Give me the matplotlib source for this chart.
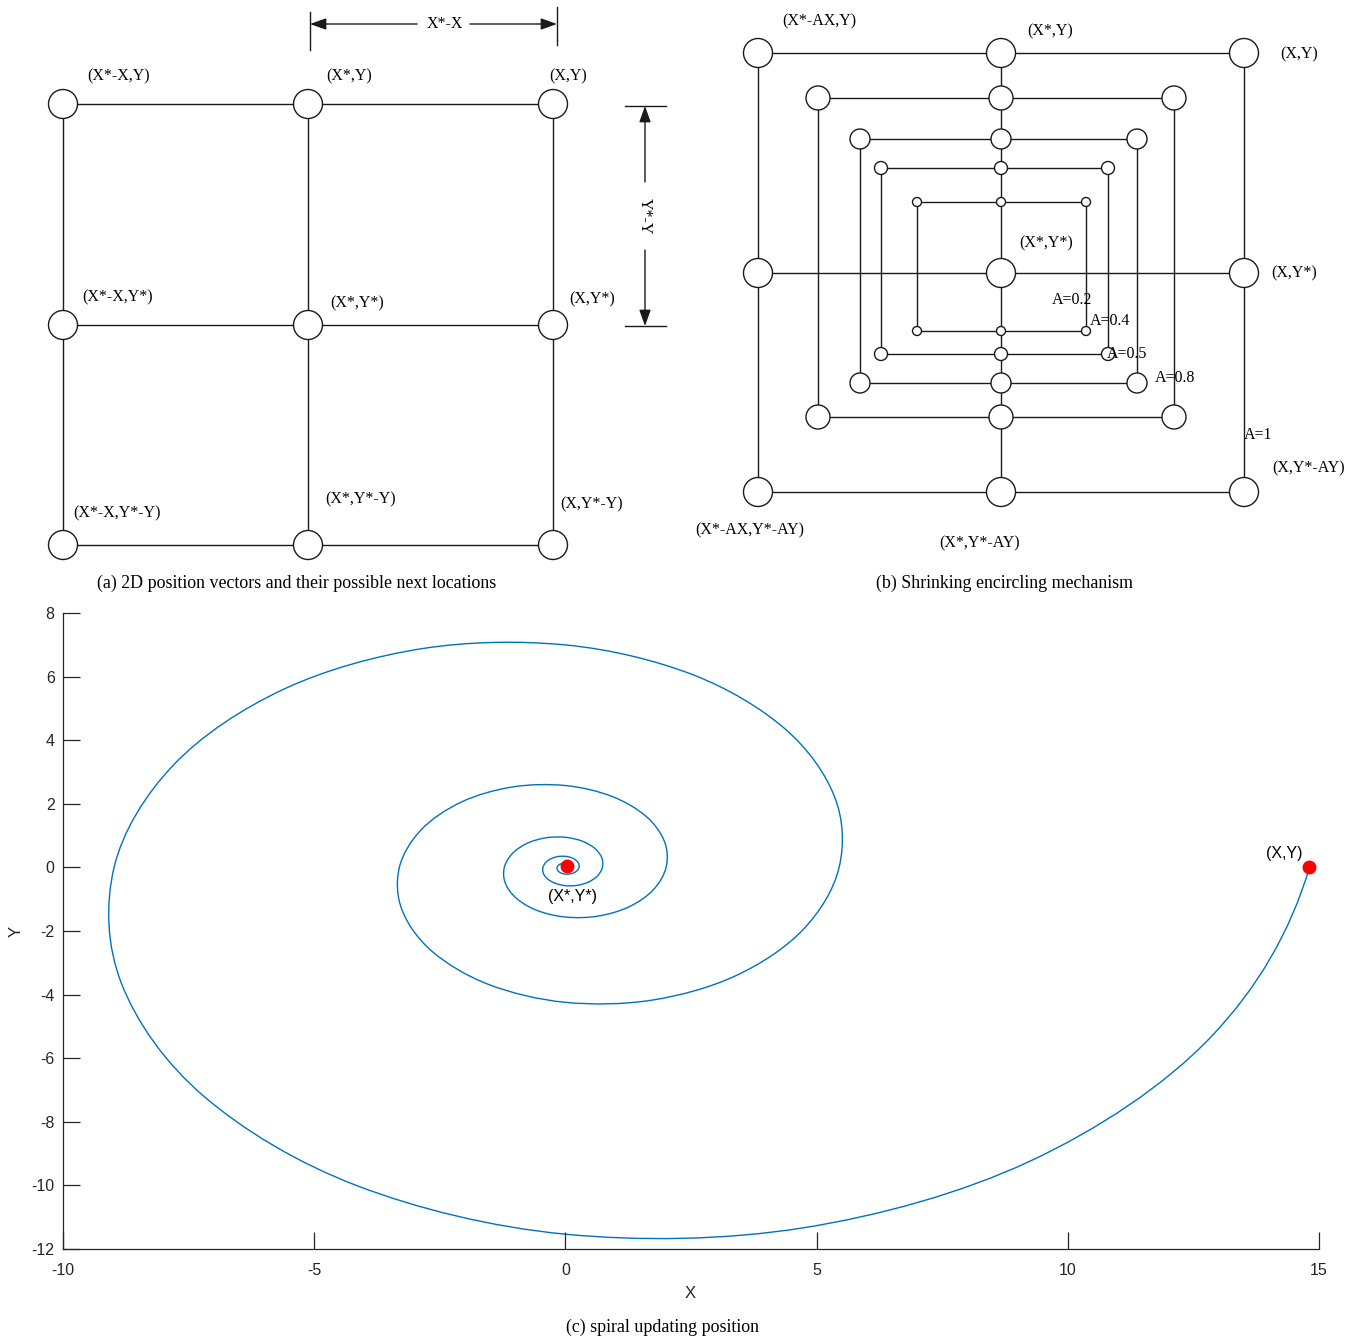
import numpy as np
import matplotlib
matplotlib.use("Agg")
import matplotlib.pyplot as plt
from matplotlib.patches import Ellipse, FancyArrowPatch, PathPatch
from matplotlib.path import Path

plt.rcParams["axes.unicode_minus"] = False

W, H = 1360, 1339

# ---------------- panel (a) data (diagram grid, canvas pixels) ----------------
a_cols = [63, 308, 553]
a_rows = [104, 325, 545]
a_node_d = 29
a_labels = [
    ("(X*-X,Y)", 119, 76), ("(X*,Y)", 349, 76), ("(X,Y)", 568, 76),
    ("(X*-X,Y*)", 118, 297), ("(X*,Y*)", 357, 303), ("(X,Y*)", 592, 299),
    ("(X*-X,Y*-Y)", 117, 513), ("(X*,Y*-Y)", 361, 499), ("(X,Y*-Y)", 592, 504),
]
a_caption = "(a) 2D position vectors and their possible next locations"

# ---------------- panel (b) data ----------------
b_A = ["A=1", "A=0.8", "A=0.5", "A=0.4", "A=0.2"]
b_left = [758, 818, 860, 881, 917]
b_right = [1244, 1174, 1137, 1108, 1086]
b_top = [53, 98, 139, 168, 202]
b_bottom = [492, 417, 383, 354, 331]
b_node_d = [29, 24, 20, 13, 9]
b_cx, b_cy = 1001, 273
b_A_pos = [(1258, 435), (1175, 378), (1127, 354), (1110, 321), (1072, 300)]
b_labels = [
    ("(X*-AX,Y)", 819, 21), ("(X*,Y)", 1050, 31), ("(X,Y)", 1299, 54),
    ("(X*,Y*)", 1046, 243), ("(X,Y*)", 1294, 273), ("(X,Y*-AY)", 1309, 468),
    ("(X*-AX,Y*-AY)", 750, 530), ("(X*,Y*-AY)", 980, 543),
]
b_caption = "(b) Shrinking encircling mechanism"

# ---------------- panel (c) data: spiral points ----------------
spiral_x = [14.81, 12.854, 9.242, 4.699, 0.0, -4.146, -7.197, -8.834,
            -8.983, -7.796, -5.605, -2.850, 0.0, 2.515, 4.365, 5.358,
            5.448, 4.729, 3.400, 1.728, 0.0, -1.525, -2.648, -3.250,
            -3.305, -2.868, -2.062, -1.048, 0.0, 0.925, 1.606, 1.971,
            2.004, 1.740, 1.251, 0.636, 0.0, -0.561, -0.974, -1.196,
            -1.216, -1.055, -0.759, -0.386, 0.0, 0.340, 0.591, 0.725,
            0.737, 0.640, 0.460, 0.234, 0.0, -0.206, -0.358, -0.440,
            -0.447, -0.388, -0.279, -0.142, 0.0, 0.125, 0.217, 0.267,
            0.271, 0.235, 0.169, 0.086, 0.0, -0.076, -0.132, -0.162,
            -0.165, -0.143, -0.103, -0.052, 0.0]
spiral_y = [0.0, -5.324, -9.242, -11.343, -11.534, -10.010, -7.197, -3.659,
            0.0, 3.229, 5.605, 6.880, 6.996, 6.072, 4.365, 2.219,
            0.0, -1.959, -3.400, -4.173, -4.243, -3.683, -2.648, -1.346,
            0.0, 1.188, 2.062, 2.531, 2.574, 2.234, 1.606, 0.816,
            0.0, -0.721, -1.251, -1.535, -1.561, -1.355, -0.974, -0.495,
            0.0, 0.437, 0.759, 0.931, 0.947, 0.822, 0.591, 0.300,
            0.0, -0.265, -0.460, -0.565, -0.574, -0.498, -0.358, -0.182,
            0.0, 0.161, 0.279, 0.343, 0.348, 0.302, 0.217, 0.110,
            0.0, -0.098, -0.169, -0.208, -0.211, -0.183, -0.132, -0.067,
            0.0, 0.059, 0.103, 0.126, 0.128]
start_pt = (14.81, 0.0)
best_pt = (0.03, 0.05)
x_ticks = [-10, -5, 0, 5, 10, 15]
y_ticks = [-12, -10, -8, -6, -4, -2, 0, 2, 4, 6, 8]

SERIF = ["Liberation Serif", "DejaVu Serif"]
SANS = ["Liberation Sans", "DejaVu Sans"]
LC = "#1a1a1a"

fig = plt.figure(figsize=(W / 100, H / 100), dpi=100)
cv = fig.add_axes([0, 0, 1, 1])
cv.set_xlim(0, W)
cv.set_ylim(H, 0)
cv.axis("off")


def node(x, y, d):
    cv.add_patch(Ellipse((x, y), d, d, facecolor="white", edgecolor=LC, lw=1.0, zorder=3))


def seg(x0, y0, x1, y1):
    cv.plot([x0, x1], [y0, y1], color=LC, lw=1.0, zorder=2)


# ---- panel (a)
for r in a_rows:
    seg(a_cols[0], r, a_cols[-1], r)
for c in a_cols:
    seg(c, a_rows[0], c, a_rows[-1])
for r in a_rows:
    for c in a_cols:
        node(c, r, a_node_d)
for t, x, y in a_labels:
    cv.text(x, y, t, family=SERIF, fontsize=11.5, ha="center", va="center")
cv.text(297, 583, a_caption, family=SERIF, fontsize=12.9, ha="center", va="center")

# dimension markers
seg(310, 12, 310, 50)
seg(557, 7, 557, 45)
seg(625, 106, 666, 106)
seg(625, 326, 666, 326)
arrowkw = dict(arrowstyle="-|>,head_length=0.7,head_width=0.25", color=LC, lw=1.0,
               mutation_scale=14, shrinkA=0, shrinkB=0)
for (x0, y0, x1, y1) in [(417, 24, 310, 24), (470, 24, 557, 24),
                         (645, 182, 645, 106), (645, 250, 645, 326)]:
    cv.add_patch(FancyArrowPatch((x0, y0), (x1, y1), **arrowkw))
cv.text(445, 24, "X*-X", family=SERIF, fontsize=11.5, ha="center", va="center")
cv.text(645, 216, "Y*-Y", family=SERIF, fontsize=11.5, ha="center", va="center", rotation=-90)

# ---- panel (b)
seg(b_cx, b_top[0], b_cx, b_bottom[0])
seg(b_left[0], b_cy, b_right[0], b_cy)
for L, R, T, B in zip(b_left, b_right, b_top, b_bottom):
    seg(L, T, R, T)
    seg(L, B, R, B)
    seg(L, T, L, B)
    seg(R, T, R, B)
for L, R, T, B, d in zip(b_left, b_right, b_top, b_bottom, b_node_d):
    for (x, y) in [(L, T), (b_cx, T), (R, T), (L, B), (b_cx, B), (R, B)]:
        node(x, y, d)
node(b_left[0], b_cy, b_node_d[0])
node(b_right[0], b_cy, b_node_d[0])
node(b_cx, b_cy, b_node_d[0])
for t, (x, y) in zip(b_A, b_A_pos):
    cv.text(x, y, t, family=SERIF, fontsize=11.5, ha="center", va="center", zorder=5)
for t, x, y in b_labels:
    cv.text(x, y, t, family=SERIF, fontsize=11.5, ha="center", va="center")
cv.text(1005, 583, b_caption, family=SERIF, fontsize=12.9, ha="center", va="center")

# ---- panel (c)
cv.text(663, 1327, "(c) spiral updating position", family=SERIF, fontsize=12.9,
        ha="center", va="center")

ax = fig.add_axes([63 / W, 1 - 1249 / H, (1319 - 63) / W, (1249 - 613) / H])
ax.set_xlim(-10, 15)
ax.set_ylim(-12, 8)
ax.set_xticks(x_ticks)
ax.set_yticks(y_ticks)
for s in ["top", "right"]:
    ax.spines[s].set_visible(False)
for s in ["left", "bottom"]:
    ax.spines[s].set_color("#262626")
    ax.spines[s].set_linewidth(0.9)
ax.tick_params(direction="in", length=12.5, width=0.9, colors="#262626", labelsize=11.5)
ax.tick_params(axis="x", pad=10)
ax.tick_params(axis="y", pad=6)
for lab in ax.get_xticklabels() + ax.get_yticklabels():
    lab.set_family(SANS)
ax.patch.set_alpha(0)


def smooth_path(xs, ys):
    """Smooth curve through the given points (Catmull-Rom drawn as cubic Bezier)."""
    P = np.column_stack([xs, ys]).astype(float)
    n = len(P)
    # one-sided (second order) end tangents
    pre = 3 * P[0] - 3 * P[1] + P[2]
    post = 3 * P[-1] - 3 * P[-2] + P[-3]
    Q = np.vstack([pre, P, post])
    verts = [P[0]]
    codes = [Path.MOVETO]
    for i in range(1, n):
        p0, p1, p2, p3 = Q[i - 1], Q[i], Q[i + 1], Q[i + 2]
        verts += [p1 + (p2 - p0) / 6, p2 - (p3 - p1) / 6, p2]
        codes += [Path.CURVE4] * 3
    return Path(verts, codes)


ax.add_patch(PathPatch(smooth_path(spiral_x, spiral_y), fill=False, edgecolor="#0072BD", lw=1.0))
ax.plot(*start_pt, "o", color="red", ms=9, zorder=5)
ax.plot(*best_pt, "o", color="red", ms=9, zorder=5)
ax.text(14.3, 0.45, "(X,Y)", family=SANS, fontsize=11.5, ha="center", va="center")
ax.text(0.15, -0.93, "(X*,Y*)", family=SANS, fontsize=11.5, ha="center", va="center")
ax.set_xlabel("X", family=SANS, fontsize=12, color="#262626")
ax.set_ylabel("Y", family=SANS, fontsize=12, color="#262626")
ax.xaxis.set_label_coords((690 - 63) / 1256, (1249 - 1286) / 636)
ax.yaxis.set_label_coords((24 - 63) / 1256, 0.5)

fig.savefig("out.png", dpi=100)
